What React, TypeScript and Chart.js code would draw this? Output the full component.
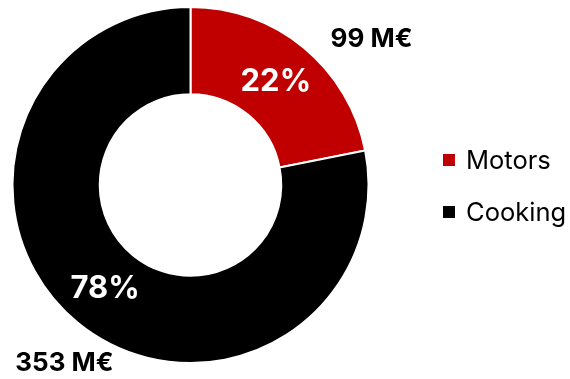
import React, { useEffect, useRef } from "react";
import { Chart, registerables } from "chart.js";

Chart.register(...registerables);

const categories = ["Motors", "Cooking"];
const values = [99, 353];
const valueLabels = ["99 M€", "353 M€"];
const colors = ["#c00000", "#000000"];

const FONT = "Inter, 'Liberation Sans', Arial, sans-serif";

const labelPlugin = {
  id: "customLabels",
  afterDraw(chart: any) {
    const ctx = chart.ctx;
    const meta = chart.getDatasetMeta(0);
    const total = values.reduce((a, b) => a + b, 0);
    const angleOffsets = [11.7, -4.1];
    const radiusFactors = [1.306, 1.225];
    ctx.save();
    meta.data.forEach((arc: any, i: number) => {
      const { x, y, startAngle, endAngle, innerRadius, outerRadius } = arc.getProps(
        ["x", "y", "startAngle", "endAngle", "innerRadius", "outerRadius"],
        true
      );
      const mid = (startAngle + endAngle) / 2;
      const rMid = (innerRadius + outerRadius) / 2;
      const pct = Math.round((values[i] / total) * 100) + "%";
      ctx.fillStyle = "#ffffff";
      ctx.font = `bold 31px ${FONT}`;
      ctx.textAlign = "center";
      ctx.textBaseline = "middle";
      ctx.fillText(pct, x + Math.cos(mid) * rMid, y + Math.sin(mid) * rMid);
      const a = mid + (angleOffsets[i] * Math.PI) / 180;
      const r = outerRadius * radiusFactors[i];
      ctx.fillStyle = "#000000";
      ctx.font = `bold 26px ${FONT}`;
      ctx.fillText(valueLabels[i], x + Math.cos(a) * r, y + Math.sin(a) * r);
    });
    const legendX = 443;
    const legendYs = [160, 212];
    categories.forEach((c, i) => {
      ctx.fillStyle = colors[i];
      ctx.fillRect(legendX, legendYs[i] - 6, 12, 12);
      ctx.fillStyle = "#000000";
      ctx.font = `25.5px ${FONT}`;
      ctx.textAlign = "left";
      ctx.textBaseline = "middle";
      ctx.fillText(c, legendX + 23, legendYs[i] + 1);
    });
    ctx.restore();
  },
};

export default function App() {
  const ref = useRef<HTMLCanvasElement | null>(null);
  useEffect(() => {
    if (!ref.current) return;
    const chart = new Chart(ref.current, {
      type: "doughnut",
      data: {
        labels: categories,
        datasets: [
          {
            data: values,
            backgroundColor: colors,
            borderColor: "#ffffff",
            borderWidth: 2,
            hoverOffset: 0,
          },
        ],
      },
      options: {
        responsive: false,
        animation: false,
        cutout: "51%",
        layout: { padding: { left: 11, right: 200, top: 6, bottom: 15 } },
        plugins: {
          legend: { display: false },
          tooltip: { enabled: false },
        },
      },
      plugins: [labelPlugin],
    });
    return () => chart.destroy();
  }, []);
  return (
    <div style={{ position: "absolute", left: 0, top: 0, width: 570, height: 379, background: "#fff" }}>
      <canvas ref={ref} width={570} height={379} style={{ display: "block" }} />
    </div>
  );
}
